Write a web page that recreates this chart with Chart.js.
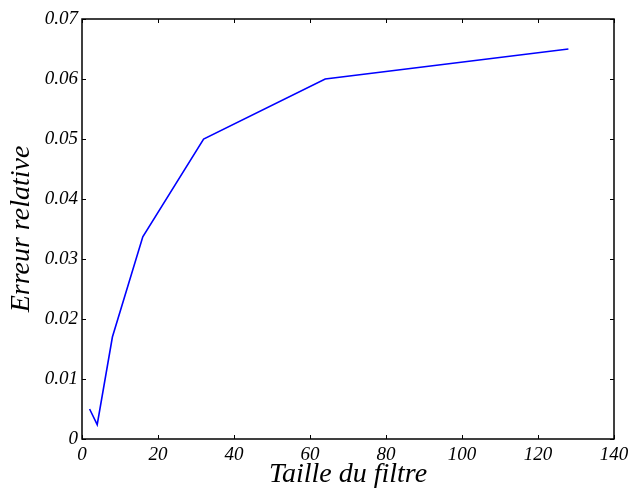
<!DOCTYPE html>
<html><head><meta charset="utf-8">
<script src="https://cdn.jsdelivr.net/npm/chart.js@4/dist/chart.umd.min.js"></script>
<style>html,body{margin:0;padding:0;background:#fff}#wrap{width:628px;height:488px}</style>
</head><body><div id="wrap"><canvas id="c" width="628" height="488"></canvas></div>
<script>
const filterSizes = [2, 4, 8, 16, 32, 64, 128];
const relError = [0.005, 0.0024, 0.017, 0.0337, 0.050, 0.060, 0.065];
const xTicks = [0, 20, 40, 60, 80, 100, 120, 140];
const yTicks = [0, 0.01, 0.02, 0.03, 0.04, 0.05, 0.06, 0.07];
const xLabel = 'Taille du filtre';
const yLabel = 'Erreur relative';

const serif = '"Liberation Serif", "DejaVu Serif", serif';

const frame = {
  id: 'frame',
  afterDraw(chart) {
    const {ctx, chartArea: a, scales: {x, y}} = chart;
    ctx.save();
    ctx.strokeStyle = '#000';
    ctx.lineWidth = 1;
    ctx.beginPath();
    xTicks.forEach(v => {
      const px = Math.round(x.getPixelForValue(v)) + 0.5;
      ctx.moveTo(px, a.bottom); ctx.lineTo(px, a.bottom - 4);
      ctx.moveTo(px, a.top); ctx.lineTo(px, a.top + 4);
    });
    yTicks.forEach(v => {
      const py = Math.round(y.getPixelForValue(v)) + 0.5;
      ctx.moveTo(a.left, py); ctx.lineTo(a.left + 4, py);
      ctx.moveTo(a.right, py); ctx.lineTo(a.right - 4, py);
    });
    ctx.stroke();
    ctx.lineWidth = 1.5;
    ctx.strokeRect(a.left, a.top, a.right - a.left, a.bottom - a.top);
    ctx.restore();
  }
};

new Chart(document.getElementById('c'), {
  type: 'scatter',
  data: {
    datasets: [{
      data: filterSizes.map((v, i) => ({x: v, y: relError[i]})),
      showLine: true,
      borderColor: '#0000ff',
      borderWidth: 1.6,
      pointRadius: 0,
      fill: false,
      tension: 0
    }]
  },
  options: {
    responsive: false,
    animation: false,
    layout: {padding: {left: 0, top: 19, right: 14, bottom: 0}},
    plugins: {legend: {display: false}, tooltip: {enabled: false}},
    scales: {
      x: {
        type: 'linear', min: 0, max: 140,
        afterBuildTicks: s => { s.ticks = xTicks.map(v => ({value: v})); },
        afterFit: s => { s.height = 49; s.paddingLeft = 0; s.paddingRight = 0; },
        grid: {display: false, drawTicks: false},
        border: {display: false},
        ticks: {
          padding: 5, maxRotation: 0, autoSkip: false, color: '#000',
          font: {family: serif, size: 19, style: 'italic'},
          callback: v => String(v)
        },
        title: {display: true, text: xLabel, color: '#000',
          font: {family: serif, size: 28, style: 'italic'}, padding: {top: 0, bottom: -3}}
      },
      y: {
        type: 'linear', min: 0, max: 0.07,
        afterBuildTicks: s => { s.ticks = yTicks.map(v => ({value: v})); },
        afterFit: s => { s.width = 82; s.paddingTop = 0; s.paddingBottom = 0; },
        grid: {display: false, drawTicks: false},
        border: {display: false},
        ticks: {
          padding: 4, autoSkip: false, color: '#000',
          font: {family: serif, size: 19, style: 'italic'},
          callback: v => v === 0 ? '0' : v.toFixed(2)
        },
        title: {display: true, text: yLabel, color: '#000',
          font: {family: serif, size: 28, style: 'italic'}, padding: {top: 5, bottom: 0}}
      }
    }
  },
  plugins: [frame]
});
</script></body></html>
